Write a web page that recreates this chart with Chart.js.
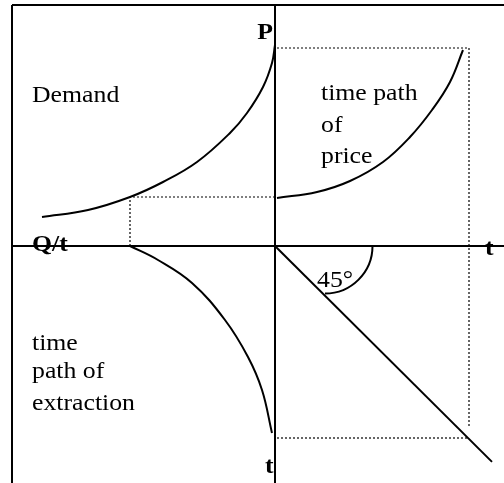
<!DOCTYPE html>
<html>
<head>
<meta charset="utf-8">
<script src="https://cdn.jsdelivr.net/npm/chart.js@4.4.0/dist/chart.umd.min.js"></script>
<style>
  html, body { margin: 0; padding: 0; background: #fff; }
  #wrap { width: 504px; height: 483px; position: relative; }
</style>
</head>
<body>
<div id="wrap"><canvas id="chart"></canvas></div>
<script>
// demand curve (upper left): quantity grows to the left, price up
var demandQ = [23.3, 18.7, 14.5, 11.2, 7.8, 4.5, 2.8, 1.2, 0.3, 0.0];
var demandP = [2.9, 3.6, 4.9, 6.4, 8.4, 11.3, 13.3, 15.9, 18.3, 20.1];

// time path of price (upper right)
var priceT = [0.2, 4.2, 7.5, 10.8, 13.5, 15.7, 17.5, 18.8];
var priceP = [4.8, 5.4, 6.5, 8.4, 10.9, 13.6, 16.4, 19.6];

// time path of extraction (lower left): time runs downward
var extractQ = [14.5, 11.7, 8.3, 5.0, 2.7, 1.3, 0.3];
var extractT = [0, 1.4, 3.7, 7.4, 11.1, 14.4, 18.7];

// 45 degree line (lower right)
var lineT = [0, 21.7];

// projection levels
var startQ = 14.5, startP = 4.9;
var endT = 19.4, endP = 19.8, endTdown = 19.2;

// frame
var frameLeft = -26.3, frameRight = 22.9, frameTop = 24.1, frameBottom = -23.7;

function pts(xs, ys, sx, sy) {
  return xs.map(function(x, i) { return { x: sx * x, y: sy * ys[i] }; });
}

var solid = { borderColor: '#000', borderWidth: 2, pointRadius: 0, showLine: true, clip: false, fill: false };
var dotted = { borderColor: '#000', borderWidth: 1.2, borderDash: [2, 2], pointRadius: 0, showLine: true, clip: false, fill: false };

function ds(data, style, tension) {
  return Object.assign({ data: data, tension: tension || 0 }, style);
}

var datasets = [
  // frame and axes
  ds([{ x: frameLeft, y: frameTop }, { x: frameRight, y: frameTop }], solid),
  ds([{ x: frameLeft, y: frameTop }, { x: frameLeft, y: frameBottom }], solid),
  ds([{ x: frameLeft, y: 0 }, { x: frameRight, y: 0 }], solid),
  ds([{ x: 0, y: frameTop }, { x: 0, y: frameBottom }], solid),
  // curves
  ds(pts(demandQ, demandP, -1, 1), solid, 0.4),
  ds(pts(priceT, priceP, 1, 1), solid, 0.4),
  ds(pts(extractQ, extractT, -1, -1), solid, 0.4),
  ds(pts(lineT, lineT, 1, -0.995), solid),
  // dotted projections
  ds([{ x: -startQ, y: 0 }, { x: -startQ, y: startP }, { x: 0, y: startP }], dotted),
  ds([{ x: 0.2, y: endP }, { x: endT, y: endP }, { x: endT, y: -18.2 }], dotted),
  ds([{ x: 0.2, y: -endTdown }, { x: endT - 0.1, y: -endTdown }], dotted)
];

// text labels [text, x, y, bold, align]
var labels = [
  ['Demand', -24.3, 14.4, false, 'left'],
  ['time path', 4.6, 14.6, false, 'left'],
  ['of', 4.6, 11.4, false, 'left'],
  ['price', 4.6, 8.3, false, 'left'],
  ['time', -24.3, -10.4, false, 'left'],
  ['path of', -24.3, -13.2, false, 'left'],
  ['extraction', -24.3, -16.4, false, 'left'],
  ['45°', 4.2, -4.1, false, 'left'],
  ['P', -0.2, 20.7, true, 'right'],
  ['Q/t', -24.3, -0.5, true, 'left'],
  ['t', 21.0, -0.9, true, 'left'],
  ['t', -1.0, -22.7, true, 'left']
];

var arcCenterX = 5.0, arcRadius = 4.75;
var serif = '"Liberation Serif", "Times New Roman", Times, serif';

var diagramPlugin = {
  id: 'diagram',
  afterDatasetsDraw: function(chart) {
    var ctx = chart.ctx, xs = chart.scales.x, ys = chart.scales.y;
    ctx.save();
    // angle arc
    var cx = xs.getPixelForValue(arcCenterX), cy = ys.getPixelForValue(0);
    var r = xs.getPixelForValue(arcCenterX + arcRadius) - cx;
    ctx.beginPath();
    ctx.arc(cx, cy, r, 0, Math.PI / 2);
    ctx.strokeStyle = '#000';
    ctx.lineWidth = 2;
    ctx.stroke();
    // labels
    ctx.fillStyle = '#000';
    ctx.textBaseline = 'alphabetic';
    labels.forEach(function(l) {
      ctx.font = (l[3] ? 'bold ' : '') + '23px ' + serif;
      var px = xs.getPixelForValue(l[1]), py = ys.getPixelForValue(l[2]);
      var w = ctx.measureText(l[0]).width * 1.12;
      ctx.save();
      ctx.translate(l[4] === 'right' ? px - w : px, py);
      ctx.scale(1.12, 1);
      ctx.textAlign = 'left';
      ctx.fillText(l[0], 0, 0);
      ctx.restore();
    });
    ctx.restore();
  }
};

function draw() {
  new Chart(document.getElementById('chart'), {
    type: 'scatter',
    data: { datasets: datasets },
    options: {
      responsive: true,
      maintainAspectRatio: false,
      animation: false,
      layout: { padding: 0 },
      plugins: { legend: { display: false }, tooltip: { enabled: false } },
      scales: {
        x: { type: 'linear', display: false, min: -27.5, max: 22.9 },
        y: { type: 'linear', display: false, min: -23.7, max: 24.6 }
      }
    },
    plugins: [diagramPlugin]
  });
}

Promise.all([
  document.fonts.load('23px "Liberation Serif"'),
  document.fonts.load('bold 23px "Liberation Serif"')
]).then(draw, draw);
</script>
</body>
</html>
